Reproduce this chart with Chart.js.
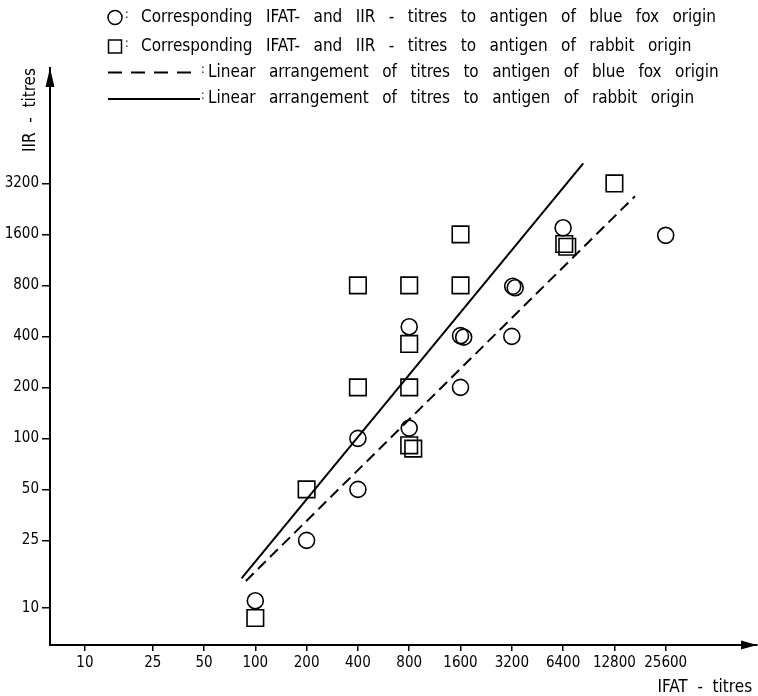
<!DOCTYPE html>
<html>
<head>
<meta charset="utf-8">
<script src="https://cdn.jsdelivr.net/npm/chart.js@4.4.1/dist/chart.umd.min.js"></script>
<style>
  html, body { margin: 0; padding: 0; background: #fff; }
  #wrap { width: 758px; height: 696px; position: relative; }
</style>
</head>
<body>
<div id="wrap"><canvas id="chart" width="758" height="696"></canvas></div>
<script>
const FONT = '"DejaVu Sans Condensed", "DejaVu Sans", sans-serif';

// Tick labels
const xTicks = [10, 25, 50, 100, 200, 400, 800, 1600, 3200, 6400, 12800, 25600];
const yTicks = [10, 25, 50, 100, 200, 400, 800, 1600, 3200];

// Antigen of blue fox origin (circles)
const foxIFAT = [100, 200, 400, 400, 800, 800, 1600, 1670, 1600, 3200, 3240, 3350, 6400, 25600];
const foxIIR  = [11, 25, 50, 100, 115, 456, 404, 396, 200, 400, 790, 775, 1750, 1580];

// Antigen of rabbit origin (squares)
const rabbitIFAT = [100, 200, 400, 400, 800, 800, 800, 800, 845, 1600, 1600, 6500, 6770, 12800];
const rabbitIIR  = [8.7, 50, 200, 800, 200, 361, 800, 91, 87, 800, 1600, 1405, 1353, 3200];

// Linear arrangement lines (end points)
const foxLineIFAT = [88, 16900];
const foxLineIIR  = [14.4, 2690];
const rabbitLineIFAT = [83, 8400];
const rabbitLineIIR  = [14.9, 4200];

const legendRows = [
  { mark: 'circle', text: 'Corresponding IFAT- and IIR - titres to antigen of blue fox origin' },
  { mark: 'square', text: 'Corresponding IFAT- and IIR - titres to antigen of rabbit origin' },
  { mark: 'dashed', text: 'Linear arrangement of titres to antigen of blue fox origin' },
  { mark: 'solid',  text: 'Linear arrangement of titres to antigen of rabbit origin' }
];

const zip = (xs, ys) => xs.map((x, i) => ({ x, y: ys[i] }));

// legend + axis arrows
const decor = {
  id: 'decor',
  afterDraw(chart) {
    const ctx = chart.ctx;
    const { left, right, top, bottom } = chart.chartArea;
    ctx.save();
    ctx.fillStyle = '#000';
    ctx.strokeStyle = '#000';

    // arrow heads
    ctx.beginPath();
    ctx.moveTo(left, top);
    ctx.lineTo(left - 4.5, top + 19);
    ctx.lineTo(left + 4.5, top + 19);
    ctx.closePath();
    ctx.fill();
    ctx.beginPath();
    ctx.moveTo(right, bottom);
    ctx.lineTo(right - 16, bottom - 4.5);
    ctx.lineTo(right - 16, bottom + 4.5);
    ctx.closePath();
    ctx.fill();

    // legend
    ctx.font = '17px ' + FONT;
    ctx.textBaseline = 'middle';
    const words0 = legendRows[0].text.split(' ');
    const w0 = words0.reduce((s, w) => s + ctx.measureText(w).width, 0);
    const gap = (575 - w0) / (words0.length - 1);
    const rowY = [17.5, 46.5, 72.5, 99];

    legendRows.forEach((row, i) => {
      const y = rowY[i];
      let tx = 141, cx = 125;
      ctx.lineWidth = 1.5;
      ctx.setLineDash([]);
      if (row.mark === 'circle') {
        ctx.beginPath();
        ctx.arc(115, y, 7, 0, Math.PI * 2);
        ctx.stroke();
      } else if (row.mark === 'square') {
        ctx.strokeRect(108.5, y - 6.5, 13, 13);
      } else {
        ctx.lineWidth = 2;
        if (row.mark === 'dashed') ctx.setLineDash([14, 9]);
        ctx.beginPath();
        ctx.moveTo(108, y);
        ctx.lineTo(200, y);
        ctx.stroke();
        ctx.setLineDash([]);
        tx = 208; cx = 201;
      }
      ctx.font = '12px ' + FONT;
      ctx.textAlign = 'left';
      ctx.fillText(':', cx, y - 3);
      ctx.font = '17px ' + FONT;
      let x = tx;
      row.text.split(' ').forEach(w => {
        ctx.fillText(w, x, y);
        x += ctx.measureText(w).width + gap;
      });
    });
    ctx.restore();
  }
};

const tickFont = { family: FONT, size: 15 };
const titleFont = { family: FONT, size: 17, lineHeight: 1 };

new Chart(document.getElementById('chart'), {
  type: 'scatter',
  data: {
    datasets: [
      {
        label: 'blue fox',
        data: zip(foxIFAT, foxIIR),
        pointStyle: 'circle',
        pointRadius: 8,
        pointHoverRadius: 8,
        pointBorderColor: '#000',
        pointBackgroundColor: 'rgba(0,0,0,0)',
        pointBorderWidth: 1.6
      },
      {
        label: 'rabbit',
        data: zip(rabbitIFAT, rabbitIIR),
        pointStyle: 'rect',
        pointRadius: 11.7,
        pointHoverRadius: 11.7,
        pointBorderColor: '#000',
        pointBackgroundColor: 'rgba(0,0,0,0)',
        pointBorderWidth: 1.6
      },
      {
        type: 'line',
        label: 'blue fox line',
        data: zip(foxLineIFAT, foxLineIIR),
        borderColor: '#000',
        borderWidth: 2,
        borderDash: [11, 6],
        pointRadius: 0,
        fill: false
      },
      {
        type: 'line',
        label: 'rabbit line',
        data: zip(rabbitLineIFAT, rabbitLineIIR),
        borderColor: '#000',
        borderWidth: 2,
        pointRadius: 0,
        fill: false
      }
    ]
  },
  options: {
    responsive: false,
    animation: false,
    events: [],
    layout: { autoPadding: false, padding: { top: 68, right: 1, left: 0, bottom: 0 } },
    plugins: {
      legend: { display: false },
      tooltip: { enabled: false }
    },
    scales: {
      x: {
        type: 'logarithmic',
        min: 6.24,
        max: 87900,
        bounds: 'data',
        afterBuildTicks: s => { s.ticks = xTicks.map(v => ({ value: v })); },
        afterFit: s => { s.height = 51; s.paddingLeft = 0; s.paddingRight = 0; },
        ticks: {
          autoSkip: false, maxRotation: 0, padding: 3,
          color: '#000', font: tickFont,
          callback: v => String(v)
        },
        grid: { drawOnChartArea: false, drawTicks: true, tickLength: 6, color: '#000', lineWidth: 1.5 },
        border: { display: true, color: '#000', width: 2 },
        title: {
          display: true, text: 'IFAT  -  titres ', align: 'end',
          color: '#000', font: titleFont, padding: { top: 0, bottom: 0 }
        }
      },
      y: {
        type: 'logarithmic',
        min: 6.03,
        max: 15360,
        bounds: 'data',
        afterBuildTicks: s => { s.ticks = yTicks.map(v => ({ value: v })); },
        afterFit: s => { s.width = 50; },
        ticks: {
          autoSkip: false, padding: 3,
          color: '#000', font: tickFont,
          callback: v => String(v)
        },
        grid: { drawOnChartArea: false, drawTicks: true, tickLength: 8, color: '#000', lineWidth: 1.5 },
        border: { display: true, color: '#000', width: 2 },
        title: {
          display: true, text: ' IIR  -  titres', align: 'end',
          color: '#000', font: titleFont, padding: { top: 22, bottom: 0 }
        }
      }
    }
  },
  plugins: [decor]
});
</script>
</body>
</html>
